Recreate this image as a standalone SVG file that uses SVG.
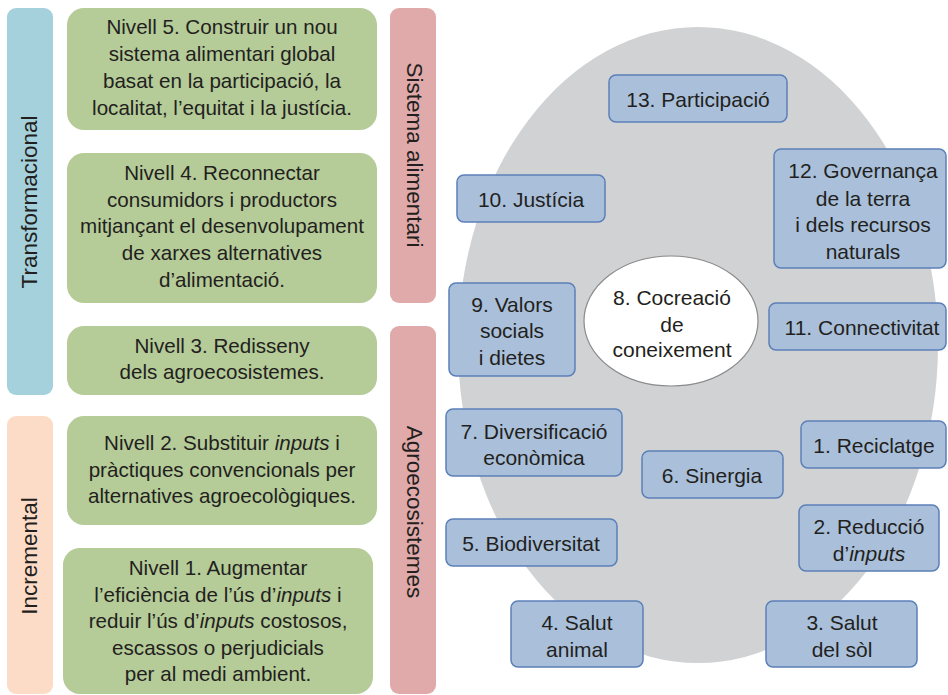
<svg xmlns="http://www.w3.org/2000/svg" width="948" height="695" viewBox="0 0 948 695">
<style>
text{font-family:"Liberation Sans",Arial,sans-serif;fill:#231f20;text-anchor:middle}
.t{font-size:21px}
.tg{font-size:20.6px}
.v{font-size:22.5px}
.g{fill:#b5cb98}
.b rect{fill:#a9bfda;stroke:#5b80b8;stroke-width:1.5}
</style>
<rect width="948" height="695" fill="#fff"/>
<g id="ellipse-bg"><ellipse cx="698" cy="345" rx="240" ry="318" fill="#d1d2d4"/></g>
<g id="bar-transformacional"><rect x="7" y="8" width="46" height="387" rx="9" fill="#a5d1dd"/><text class="v" transform="translate(37,202) rotate(-90)">Transformacional</text></g>
<g id="bar-incremental"><rect x="7" y="416" width="46" height="278" rx="9" fill="#fddcc7"/><text class="v" transform="translate(37,556) rotate(-90)">Incremental</text></g>
<g id="bar-sistema"><rect x="390" y="8" width="46" height="295" rx="9" fill="#dfaaa9"/><text class="v" transform="translate(407,155) rotate(90)">Sistema alimentari</text></g>
<g id="bar-agro"><rect x="390" y="326" width="46" height="368" rx="9" fill="#dfaaa9"/><text class="v" transform="translate(407,512) rotate(90)">Agroecosistemes</text></g>
<g id="nivell5"><rect class="g" x="67" y="8" width="310" height="122" rx="17"/>
<text class="tg"><tspan x="222" y="34">Nivell 5. Construir un nou</tspan><tspan x="222" y="61">sistema alimentari global</tspan><tspan x="222" y="88">basat en la participació, la</tspan><tspan x="222" y="115">localitat, l’equitat i la justícia.</tspan></text></g>
<g id="nivell4"><rect class="g" x="67" y="153" width="310" height="150" rx="17"/>
<text class="tg"><tspan x="222" y="180">Nivell 4. Reconnectar</tspan><tspan x="222" y="207">consumidors i productors</tspan><tspan x="222" y="233">mitjançant el desenvolupament</tspan><tspan x="222" y="260">de xarxes alternatives</tspan><tspan x="222" y="287">d’alimentació.</tspan></text></g>
<g id="nivell3"><rect class="g" x="67" y="326" width="310" height="69" rx="17"/>
<text class="tg"><tspan x="222" y="353">Nivell 3. Redisseny</tspan><tspan x="222" y="379">dels agroecosistemes.</tspan></text></g>
<g id="nivell2"><rect class="g" x="67" y="416" width="310" height="109" rx="17"/>
<text class="tg"><tspan x="222" y="450">Nivell 2. Substituir <tspan font-style="italic">inputs</tspan> i</tspan><tspan x="222" y="477">pràctiques convencionals per</tspan><tspan x="222" y="503">alternatives agroecològiques.</tspan></text></g>
<g id="nivell1"><rect class="g" x="63" y="548" width="310" height="146" rx="17"/>
<text class="tg"><tspan x="218" y="575">Nivell 1. Augmentar</tspan><tspan x="218" y="602">l’eficiència de l’ús d’<tspan font-style="italic">inputs</tspan> i</tspan><tspan x="218" y="628">reduir l’ús d’<tspan font-style="italic">inputs</tspan> costosos,</tspan><tspan x="218" y="655">escassos o perjudicials</tspan><tspan x="218" y="681">per al medi ambient.</tspan></text></g>
<g id="n8"><ellipse cx="671" cy="321" rx="87" ry="65" fill="#fff" stroke="#8a8a8a" stroke-width="1.2"/>
<text class="t"><tspan x="672" y="305">8. Cocreació</tspan><tspan x="672" y="332">de</tspan><tspan x="672" y="357">coneixement</tspan></text></g>
<g id="n13" class="b"><rect x="609" y="75" width="178" height="47" rx="7"/><text class="t" x="698" y="107">13. Participació</text></g>
<g id="n12" class="b"><rect x="774" y="149" width="172" height="119" rx="7"/><text class="t"><tspan x="863" y="178">12. Governança</tspan><tspan x="863" y="206">de la terra</tspan><tspan x="863" y="232">i dels recursos</tspan><tspan x="863" y="259">naturals</tspan></text></g>
<g id="n10" class="b"><rect x="457" y="175" width="148" height="47" rx="7"/><text class="t" x="531" y="207">10. Justícia</text></g>
<g id="n9" class="b"><rect x="449" y="283" width="126" height="93" rx="7"/><text class="t"><tspan x="512" y="312">9. Valors</tspan><tspan x="512" y="338">socials</tspan><tspan x="512" y="365">i dietes</tspan></text></g>
<g id="n11" class="b"><rect x="769" y="303" width="177" height="47" rx="7"/><text class="t" x="862" y="335">11. Connectivitat</text></g>
<g id="n7" class="b"><rect x="446" y="409" width="176" height="67" rx="7"/><text class="t"><tspan x="534" y="439">7. Diversificació</tspan><tspan x="534" y="465">econòmica</tspan></text></g>
<g id="n1" class="b"><rect x="801" y="421" width="145" height="47" rx="7"/><text class="t" x="874" y="453">1. Reciclatge</text></g>
<g id="n6" class="b"><rect x="642" y="451" width="141" height="47" rx="7"/><text class="t" x="712" y="483">6. Sinergia</text></g>
<g id="n5" class="b"><rect x="446" y="519" width="171" height="47" rx="7"/><text class="t" x="531" y="551">5. Biodiversitat</text></g>
<g id="n2" class="b"><rect x="799" y="505" width="140" height="66" rx="7"/><text class="t"><tspan x="869" y="534">2. Reducció</tspan><tspan x="869" y="561">d’<tspan font-style="italic">inputs</tspan></tspan></text></g>
<g id="n4" class="b"><rect x="511" y="601" width="132" height="66" rx="7"/><text class="t"><tspan x="577" y="630">4. Salut</tspan><tspan x="577" y="657">animal</tspan></text></g>
<g id="n3" class="b"><rect x="766" y="601" width="151" height="66" rx="7"/><text class="t"><tspan x="842" y="630">3. Salut</tspan><tspan x="842" y="657">del sòl</tspan></text></g>
<g id="connectors"></g>
</svg>
